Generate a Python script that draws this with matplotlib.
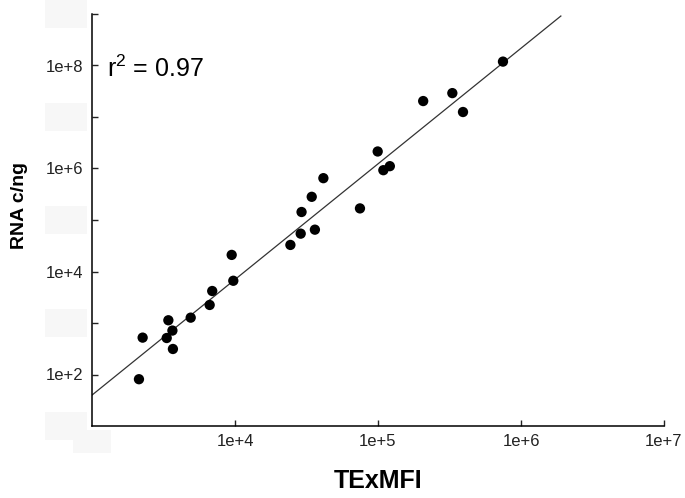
import matplotlib
matplotlib.use('Agg')
import matplotlib.pyplot as plt
from matplotlib.patches import Rectangle
import numpy as np

plt.rcParams['font.family'] = ['Liberation Sans', 'DejaVu Sans']
plt.rcParams['mathtext.fontset'] = 'custom'
plt.rcParams['mathtext.rm'] = 'Liberation Sans'
plt.rcParams['mathtext.it'] = 'Liberation Sans'

# TExMFI vs RNA copies per ng
texmfi = [7.48e5, 3.31e5, 3.93e5, 2.07e5, 9.95e4, 1.09e5, 1.21e5, 4.15e4,
          7.48e4, 3.44e4, 2.92e4, 3.62e4, 2.88e4, 2.44e4, 9.48e3, 9.73e3,
          6.93e3, 6.65e3, 4.90e3, 3.42e3, 3.65e3, 3.33e3, 2.26e3, 3.68e3,
          2.13e3]
rna = [1.19e8, 2.91e7, 1.25e7, 2.04e7, 2.14e6, 9.27e5, 1.11e6, 6.49e5,
       1.68e5, 2.82e5, 1.43e5, 6.49e4, 5.43e4, 3.28e4, 2.10e4, 6.61e3,
       4.18e3, 2.24e3, 1.27e3, 1.13e3, 713, 511, 520, 313, 81]

# regression in log-log space
fit_slope = 2.245
fit_intercept = -5.135
fit_x = [1e3, 1.9e6]

r2_text = 'r$^{2}$ = 0.97'

xticks = [1e4, 1e5, 1e6, 1e7]
xticklabels = ['1e+4', '1e+5', '1e+6', '1e+7']
yticks = [1e2, 1e3, 1e4, 1e5, 1e6, 1e7, 1e8, 1e9]
yticklabels = ['1e+2', '', '1e+4', '', '1e+6', '', '1e+8', '']

fig = plt.figure(figsize=(6.85, 4.98), dpi=100)
ax = fig.add_axes([92/685, 1 - 426/498, 572/685, 412/498])

fx = np.array(fit_x)
fy = 10 ** (fit_intercept + fit_slope * np.log10(fx))
ax.plot(fx, fy, color='#333333', lw=0.9, zorder=2)
ax.scatter(texmfi, rna, s=55, color='black', edgecolors='none', zorder=3)

ax.set_xscale('log')
ax.set_yscale('log')
ax.set_xlim(1e3, 1e7)
ax.set_ylim(1e1, 1e9)
ax.set_xticks(xticks)
ax.set_xticklabels(xticklabels)
ax.set_yticks(yticks)
ax.set_yticklabels(yticklabels)
ax.minorticks_off()
ax.tick_params(direction='in', length=4, width=1, labelsize=12, pad=6, colors='#222222')

for side in ['top', 'right']:
    ax.spines[side].set_visible(False)
for side in ['left', 'bottom']:
    ax.spines[side].set_linewidth(1.1)

ax.set_xlabel('TExMFI', fontsize=18, fontweight='bold')
ax.xaxis.set_label_coords(0.5, -0.105)
ax.set_ylabel('RNA c/ng', fontsize=14, fontweight='bold')
ax.yaxis.set_label_coords(-0.112, 0.535)

ax.text(0.026, 0.848, r2_text, transform=ax.transAxes, fontsize=18, va='baseline')

# faint boxes where the odd-decade labels were blanked out
for k in [1e1, 1e3, 1e5, 1e7, 1e9]:
    ax.add_patch(Rectangle((-0.083, k / 10 ** 0.27), 0.074, k * 10 ** 0.27 - k / 10 ** 0.27,
                           transform=ax.get_yaxis_transform(), facecolor='#f7f7f7',
                           edgecolor='none', clip_on=False, zorder=0))
ax.add_patch(Rectangle((1e3 / 10 ** 0.13, -0.065), 1e3 * 10 ** 0.13 - 1e3 / 10 ** 0.13, 0.055,
                       transform=ax.get_xaxis_transform(), facecolor='#f7f7f7',
                       edgecolor='none', clip_on=False, zorder=0))

plt.savefig('out.png', dpi=100)
